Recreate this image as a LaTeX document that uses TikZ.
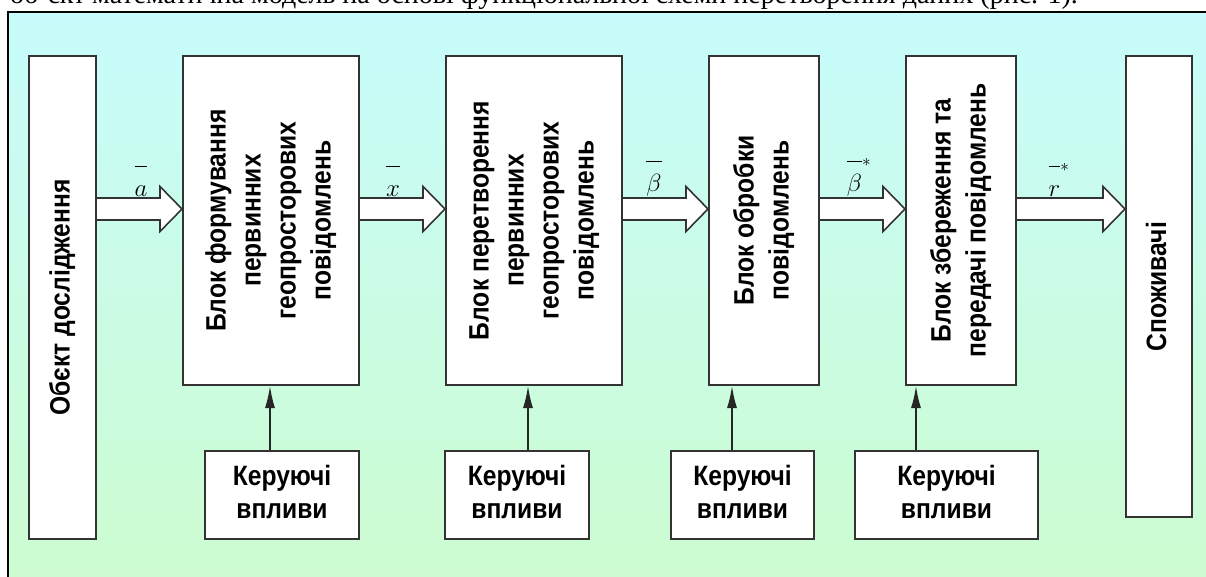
\documentclass[tikz,border=0pt]{standalone}
\usepackage{fontspec}
\setmainfont{Liberation Serif}
\newfontfamily\boxfont{Liberation Sans}
\usepackage{amsmath}
\usepackage{graphicx}
\usetikzlibrary{arrows.meta,calc}
\definecolor{topcyan}{RGB}{200,252,252}
\definecolor{botgreen}{RGB}{204,252,206}
\newcommand{\vecbar}[1]{\overline{\rule{0pt}{1.0em}#1}}
\newcommand{\narrowtext}[1]{\scalebox{0.88}[1]{\begin{tabular}{@{}c@{}}#1\end{tabular}}}
\newcommand{\fatarrow}[4]{%
	\draw[fat] ($(#1)+(0,-11)$) -- ($(#2)+(-22,-11)$) -- ($(#2)+(-22,-22.5)$) -- (#2) -- ($(#2)+(-22,22.5)$) -- ($(#2)+(-22,11)$) -- ($(#1)+(0,11)$);
	\node[sig] at ($(#1)+(#4,-11)$) {$#3$};
}
\begin{document}
\begin{tikzpicture}[x=1pt, y=-1pt,
		blk/.style={draw=black!80, line width=2pt, fill=white, inner sep=0pt},
		vtext/.style={rotate=90, inner sep=0pt, font=\boxfont\bfseries\fontsize{28}{35}\selectfont},
		ctext/.style={inner sep=0pt, font=\boxfont\bfseries\fontsize{28}{33}\selectfont},
		fat/.style={draw=black!80, line width=1.6pt, fill=white, line join=miter},
		ctl/.style={draw=black!85, line width=1.6pt, -{Latex[length=22pt,width=10pt]}},
		sig/.style={anchor=south, inner sep=1pt, font=\fontsize{27}{30}\selectfont}]
				\useasboundingbox (0,0) rectangle (1206,577);
				\clip (0,0) rectangle (1206,577);
				\node[anchor=base west, inner sep=0pt, font=\fontsize{28}{30}\selectfont] (caption) at (10,3.5) {об'єкт математична модель на основі функціональної схеми перетворення даних (рис. 1).};
				\draw[line width=2pt, top color=topcyan, bottom color=botgreen] (8,12) rectangle (1230,600);
				\coordinate (axis) at (0,209);
				\node[blk, minimum width=67, minimum height=483, label={[vtext]center:{\narrowtext{Обєкт дослідження}}}] (b1) at (62.5,297.5) {};
				\node[blk, minimum width=176, minimum height=329, label={[vtext]center:{\narrowtext{Блок формування\\первинних\\геопросторових\\повідомлень}}}] (b2) at (271,220.5) {};
				\node[blk, minimum width=176, minimum height=329, label={[vtext]center:{\narrowtext{Блок перетворення\\первинних\\геопросторових\\повідомлень}}}] (b3) at (534,220.5) {};
				\node[blk, minimum width=110, minimum height=329, label={[vtext]center:{\narrowtext{Блок обробки\\повідомлень}}}] (b4) at (764,220.5) {};
				\node[blk, minimum width=110, minimum height=329, label={[vtext]center:{\narrowtext{Блок збереження та\\передачі повідомлень}}}] (b5) at (961,220.5) {};
				\node[blk, minimum width=66, minimum height=461, label={[vtext]center:{\narrowtext{Споживачі}}}] (b6) at (1159,286.5) {};
				\node[blk, minimum width=154, minimum height=88, label={[ctext]center:{\narrowtext{Керуючі\\впливи}}}] (c1) at (282,495) {};
				\node[blk, minimum width=144, minimum height=88, label={[ctext]center:{\narrowtext{Керуючі\\впливи}}}] (c2) at (517,495) {};
				\node[blk, minimum width=143, minimum height=88, label={[ctext]center:{\narrowtext{Керуючі\\впливи}}}] (c3) at (742.5,495) {};
				\node[blk, minimum width=183, minimum height=88, label={[ctext]center:{\narrowtext{Керуючі\\впливи}}}] (c4) at (946.5,495) {};
				\fatarrow{b1.east |- axis}{b2.west |- axis}{\vecbar{a}}{44}
				\fatarrow{b2.east |- axis}{b3.west |- axis}{\vecbar{x}}{33}
				\fatarrow{b3.east |- axis}{b4.west |- axis}{\vecbar{\beta}}{31}
				\fatarrow{b4.east |- axis}{b5.west |- axis}{\vecbar{\beta}^{*}}{39}
				\fatarrow{b5.east |- axis}{b6.west |- axis}{\vecbar{r}^{*}}{42}
				\draw[ctl] ([xshift=-12pt]c1.north) -- ([xshift=-12pt]c1.north |- b2.south);
				\draw[ctl] ([xshift=11pt]c2.north) -- ([xshift=11pt]c2.north |- b3.south);
				\draw[ctl] ([xshift=-10.5pt]c3.north) -- ([xshift=-10.5pt]c3.north |- b4.south);
				\draw[ctl] ([xshift=-30.5pt]c4.north) -- ([xshift=-30.5pt]c4.north |- b5.south);
			\end{tikzpicture}
\end{document}
